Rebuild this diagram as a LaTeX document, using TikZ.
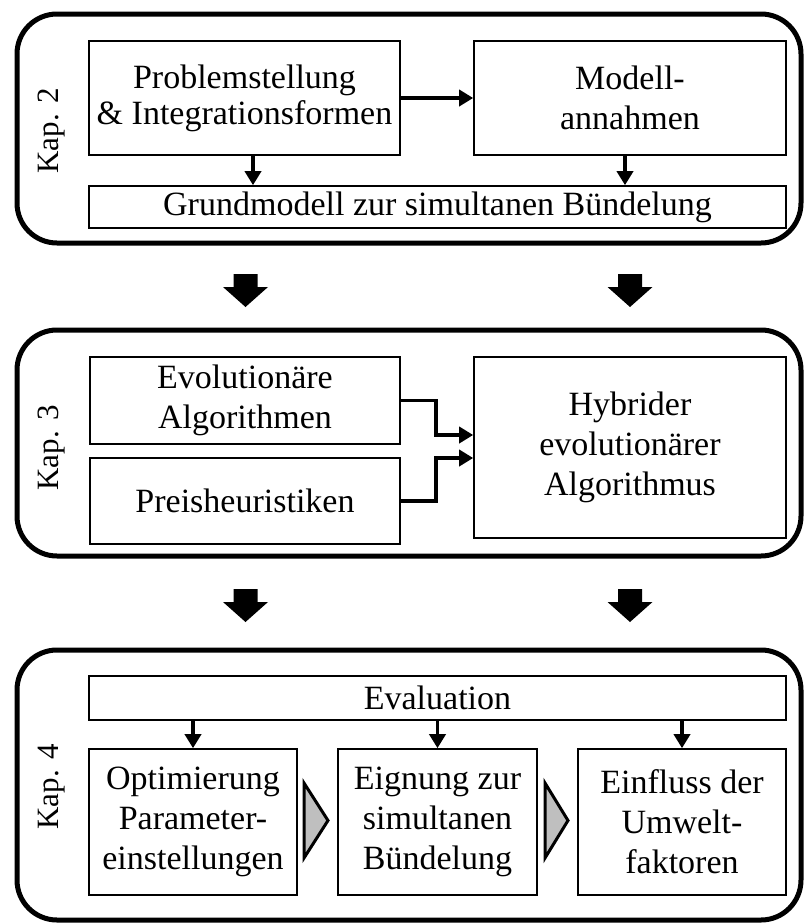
\documentclass[tikz,border=0pt]{standalone}
\usepackage{fontspec}
\setmainfont{Liberation Serif}
\usetikzlibrary{arrows.meta}

\begin{document}
\begin{tikzpicture}[x=1pt, y=-1pt,
        panel/.style={line width=5pt, rounded corners=40pt},
        blk/.style={draw, line width=1.6pt, align=center, inner sep=0pt, font=\fontsize{34}{40}\selectfont},
        kap/.style={rotate=90, font=\fontsize{31}{36}\selectfont},
        arr/.style={line width=3.6pt, -{Triangle[length=14pt, width=16pt]}},
        tri/.style={draw, line width=3pt, fill=black!25, line join=miter},
        bigarr/.style={fill=black}]
    \useasboundingbox (0,0) rectangle (804,924);

    % Kap. 2
    \draw[panel] (17,14) rectangle (801,243);
    \node[kap] (kap2) at (52,131) {Kap. 2};
    \node[blk, minimum width=311pt, minimum height=114pt, font=\fontsize{34}{36}\selectfont] (prob) at (244.5,98) {Problemstellung\\\& Integrationsformen};
    \node[blk, minimum width=312pt, minimum height=114pt] (modell) at (630,98) {Modell-\\annahmen};
    \node[blk, minimum width=697pt, minimum height=42pt] (grund) at (437.5,207) {Grundmodell zur simultanen Bündelung};

    \draw[arr] (prob.east) -- (modell.west);
    \draw[arr] ([xshift=8.5pt]prob.south) -- ([xshift=8.5pt]prob.south |- grund.north);
    \draw[arr] ([xshift=-5pt]modell.south) -- ([xshift=-5pt]modell.south |- grund.north);

    % Blockpfeile
    \foreach \x/\y in {245.5/274, 630/274, 245.5/589, 630/589}
        \fill[bigarr] (\x-12,\y) -- (\x+12,\y) -- (\x+12,\y+13) -- (\x+22.5,\y+13)
            -- (\x,\y+33) -- (\x-22.5,\y+13) -- (\x-12,\y+13) -- cycle;

    % Kap. 3
    \draw[panel] (17,330) rectangle (801,556);
    \node[kap] (kap3) at (52,448) {Kap. 3};
    \node[blk, minimum width=310pt, minimum height=87pt] (evol) at (245,400.5) {Evolutionäre\\Algorithmen};
    \node[blk, minimum width=310pt, minimum height=86pt] (preis) at (245,501) {Preisheuristiken};
    \node[blk, minimum width=312pt, minimum height=181pt] (hybrid) at (630,447.5) {Hybrider\\evolutionärer\\Algorithmus};

    \draw[arr] (evol.east) -- ++(35,0) |- ([yshift=12.5pt]hybrid.west);
    \draw[arr] (preis.east) -- ++(35,0) |- ([yshift=-10.5pt]hybrid.west);

    % Kap. 4
    \draw[panel] (17,650) rectangle (801,920);
    \node[kap] (kap4) at (52,787) {Kap. 4};
    \node[blk, minimum width=697pt, minimum height=44pt] (eval) at (437.5,698) {Evaluation};
    \node[blk, minimum width=208pt, minimum height=146pt] (opt) at (193,822) {Optimierung\\Parameter-\\einstellungen};
    \node[blk, minimum width=199pt, minimum height=146pt] (eign) at (437.5,822) {Eignung zur\\simultanen\\Bündelung};
    \node[blk, minimum width=208pt, minimum height=146pt] (einfl) at (682,822) {Einfluss der\\Umwelt-\\faktoren};

    \draw[arr] (eval.south -| opt.north) -- (opt.north);
    \draw[arr] (eval.south -| eign.north) -- (eign.north);
    \draw[arr] (eval.south -| einfl.north) -- (einfl.north);

    \draw[tri] (304,783) -- (328,820.5) -- (304,858) -- cycle;
    \draw[tri] (545,783) -- (568,820.5) -- (545,858) -- cycle;
\end{tikzpicture}
\end{document}
